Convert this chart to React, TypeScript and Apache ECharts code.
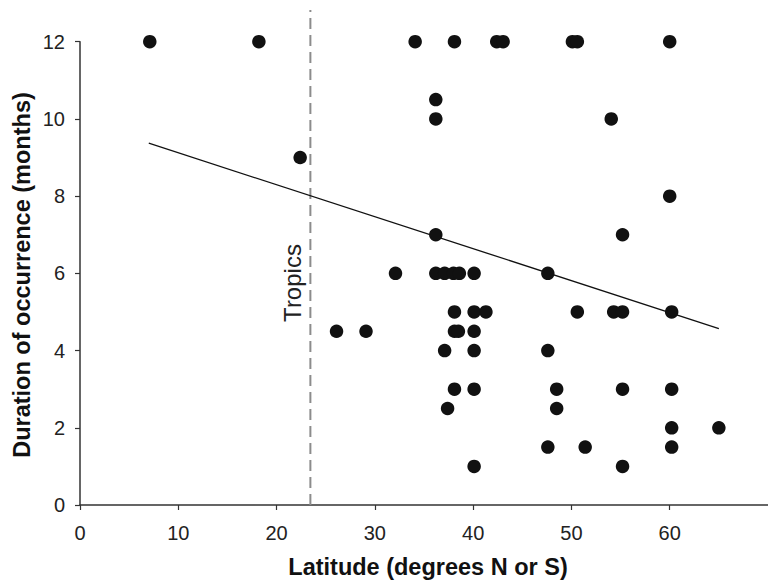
import React, { useEffect, useRef } from "react";
import * as echarts from "echarts";

// Latitude (degrees) and duration (months) of each observation
const latitudes: number[] = [
  7.1, 18.2, 34.1, 38.1, 42.4, 43.05, 50.1, 50.6, 60,
  36.2,
  36.2, 54.05,
  22.4,
  60,
  36.2, 55.2,
  32.1, 36.2, 37.1, 38.0, 38.6, 40.1, 47.6,
  38.1, 40.1, 41.3, 50.6, 54.3, 55.2, 60.2,
  26.1, 29.1, 38.1, 38.5, 40.1,
  37.1, 40.1, 47.6,
  38.1, 40.1, 48.5, 55.2, 60.2,
  37.4, 48.5,
  60.2, 65.0,
  47.6, 51.4, 60.2,
  40.1, 55.2,
];
const durations: number[] = [
  12, 12, 12, 12, 12, 12, 12, 12, 12,
  10.5,
  10, 10,
  9,
  8,
  7, 7,
  6, 6, 6, 6, 6, 6, 6,
  5, 5, 5, 5, 5, 5, 5,
  4.5, 4.5, 4.5, 4.5, 4.5,
  4, 4, 4,
  3, 3, 3, 3, 3,
  2.5, 2.5,
  2, 2,
  1.5, 1.5, 1.5,
  1, 1,
];

// Regression line endpoints
const trendX: number[] = [7, 65];
const trendY: number[] = [9.37, 4.57];

// Tropic of Cancer latitude
const tropicLat = 23.44;
const tropicTop = 12.82;

const xTicks = { min: 0, max: 70, interval: 10 };
const yTicks = { min: 0, max: 12, interval: 2 };

const FONT = "'Liberation Sans', Arial, Helvetica, sans-serif";

export default function App() {
  const ref = useRef<HTMLDivElement>(null);
  useEffect(() => {
    if (!ref.current) return;
    const chart = echarts.init(ref.current, undefined, { renderer: "svg" });
    const points = latitudes.map((x, i) => [x, durations[i]]);
    chart.setOption({
      animation: false,
      backgroundColor: "#ffffff",
      grid: { left: 80, top: 41.7, width: 693.7, height: 463.3 },
      xAxis: {
        type: "value",
        min: xTicks.min,
        max: xTicks.max,
        interval: xTicks.interval,
        splitLine: { show: false },
        axisLine: { show: true, onZero: false, lineStyle: { color: "#333", width: 1.5 } },
        axisTick: { show: true, length: 5, lineStyle: { color: "#333", width: 1.2 } },
        axisLabel: {
          color: "#222",
          fontSize: 20,
          fontFamily: FONT,
          margin: 18,
          showMaxLabel: false,
        },
      },
      yAxis: {
        type: "value",
        min: yTicks.min,
        max: yTicks.max,
        interval: yTicks.interval,
        splitLine: { show: false },
        axisLine: { show: true, onZero: false, lineStyle: { color: "#333", width: 1.5 } },
        axisTick: { show: true, length: 5, lineStyle: { color: "#333", width: 1.2 } },
        axisLabel: { color: "#222", fontSize: 20, fontFamily: FONT, margin: 15 },
      },
      series: [
        {
          type: "line",
          data: [
            [tropicLat, 0],
            [tropicLat, tropicTop],
          ],
          clip: false,
          symbol: "none",
          lineStyle: { color: "#8c8c8c", width: 2, type: [11, 6] },
          z: 1,
        },
        {
          type: "line",
          data: trendX.map((x, i) => [x, trendY[i]]),
          symbol: "none",
          lineStyle: { color: "#111", width: 1.3 },
          z: 2,
        },
        {
          type: "scatter",
          data: points,
          symbolSize: 13.5,
          itemStyle: { color: "#111", opacity: 1 },
          z: 3,
        },
      ],
      graphic: [
        {
          type: "text",
          x: 292,
          y: 283,
          rotation: Math.PI / 2,
          style: {
            text: "Tropics",
            fontSize: 24,
            fontFamily: FONT,
            fill: "#222",
            align: "center",
            verticalAlign: "middle",
          },
        },
        {
          type: "text",
          x: 428,
          y: 567,
          style: {
            text: "Latitude (degrees N or S)",
            fontSize: 23.5,
            fontWeight: "bold",
            fontFamily: FONT,
            fill: "#111",
            align: "center",
            verticalAlign: "middle",
          },
        },
        {
          type: "text",
          x: 22,
          y: 275,
          rotation: Math.PI / 2,
          style: {
            text: "Duration of occurrence (months)",
            fontSize: 23.5,
            fontWeight: "bold",
            fontFamily: FONT,
            fill: "#111",
            align: "center",
            verticalAlign: "middle",
          },
        },
      ],
    });
    return () => chart.dispose();
  }, []);
  return (
    <div
      ref={ref}
      style={{ position: "absolute", left: 0, top: 0, width: 768, height: 580 }}
    />
  );
}
